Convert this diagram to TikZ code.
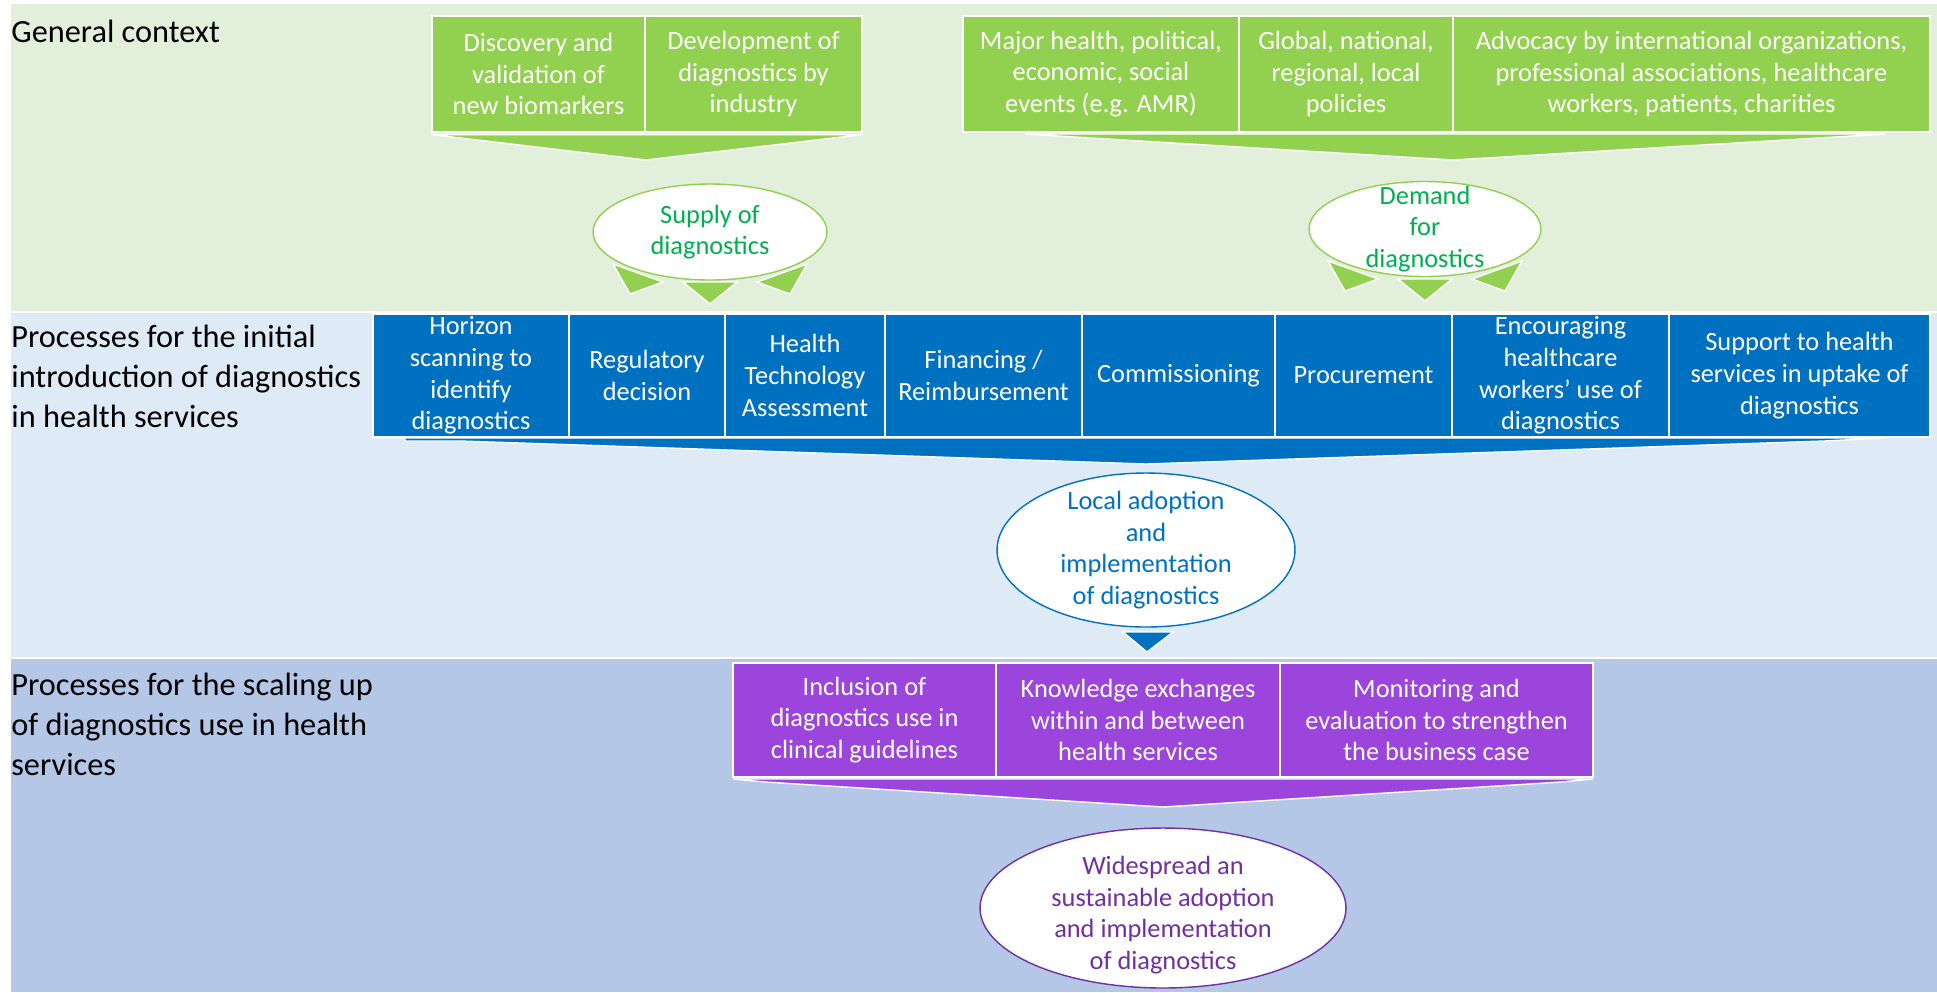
\documentclass[tikz,border=0pt]{standalone}
\usepackage{fontspec}
\setmainfont{Carlito}
\usetikzlibrary{shapes.geometric,calc}

\definecolor{bandgreen}{HTML}{E2EFDA}
\definecolor{bandblue}{HTML}{DEEBF7}
\definecolor{banddark}{HTML}{B4C7E7}
\definecolor{leafgreen}{HTML}{92D050}
\definecolor{textgreen}{HTML}{00B050}
\definecolor{boxblue}{HTML}{0070C0}
\definecolor{boxpurple}{HTML}{9B45DC}
\definecolor{textpurple}{HTML}{7030A0}

\begin{document}
\begin{tikzpicture}[x=0.02cm,y=-0.02cm,
    rowtitle/.style={anchor=base west,align=left,inner sep=0,font=\fontsize{18.4}{22.5}\selectfont},
    box/.style={draw=white,line width=0.7pt,text=white,align=center,inner sep=0,font=\fontsize{15}{18}\selectfont},
    greenbox/.style={box,fill=leafgreen,minimum height=2.32cm},
    bluebox/.style={box,fill=boxblue,minimum height=2.46cm},
    purplebox/.style={box,fill=boxpurple,minimum height=2.28cm},
    oval/.style={ellipse,fill=white,inner sep=0,line width=0.8pt},
    ovaltext/.style={align=center,inner sep=0,font=\fontsize{15}{18}\selectfont},
    chevron/.style={draw=white,line width=0.8pt}]
    \useasboundingbox (0,0) rectangle (1937,992);
    % three bands
    \fill[bandgreen] (11,4) rectangle (1937,312);
    \fill[bandblue] (11,312) rectangle (1937,658);
    \fill[banddark] (11,658) rectangle (1937,992);
    \draw[white,line width=0.8pt] (11,312) -- (1937,312) (11,658) -- (1937,658);
    % base of a multi-line title is its last line
    \node[rowtitle] (general) at (11,42) {General context};
    \node[rowtitle] (initial) at (11,427) {Processes for the initial\\introduction of diagnostics\\in health services};
    \node[rowtitle] (scaling) at (11,775) {Processes for the scaling up\\of diagnostics use in health\\services};

    % general context
    \node[greenbox,minimum width=4.26cm] (discovery) at (538.5,74) {Discovery and\\validation of\\new biomarkers};
    \node[greenbox,minimum width=4.34cm] (development) at (753.5,74) {Development of\\diagnostics by\\industry};
    \node[greenbox,minimum width=5.52cm] (events) at (1101,74) {Major health, political,\\economic, social\\events (e.g. AMR)};
    \node[greenbox,minimum width=4.28cm] (policies) at (1346,74) {Global, national,\\regional, local\\policies};
    \node[greenbox,minimum width=9.54cm] (advocacy) at (1691.5,74) {Advocacy by international organizations,\\professional associations, healthcare\\workers, patients, charities};
    \fill[leafgreen,chevron] ($(discovery.south west)+(0,2)$) -- ($(development.south east)+(0,2)$) -- (646,160) -- cycle;
    \fill[leafgreen,chevron] (1025,134) -- (1885,134) -- (1453,160) -- cycle;

    \node[oval,draw=leafgreen,minimum width=4.68cm,minimum height=1.92cm] (supply) at (710,232) {};
    \node[ovaltext,text=textgreen] (supplytext) at (supply) {Supply of\\diagnostics};
    \node[oval,draw=leafgreen,minimum width=4.64cm,minimum height=1.9cm] (demand) at (1425,229) {};
    \node[ovaltext,text=textgreen] (demandtext) at (demand) {Demand\\for\\diagnostics};
    \foreach \e in {supply,demand} {
        \fill[leafgreen,chevron] ($(\e)+(-97,32)$) -- ($(\e)+(-47,50)$) -- ($(\e)+(-80,62)$) -- cycle;
        \fill[leafgreen,chevron] ($(\e)+(-27,50)$) -- ($(\e)+(27,50)$) -- ($(\e)+(0,72)$) -- cycle;
        \fill[leafgreen,chevron] ($(\e)+(47,50)$) -- ($(\e)+(97,32)$) -- ($(\e)+(80,62)$) -- cycle;
    }

    % initial introduction
    \node[bluebox,minimum width=3.92cm] (horizon) at (471,375.5) {Horizon\\scanning to\\identify\\diagnostics};
    \node[bluebox,minimum width=3.12cm] (regulatory) at (647,375.5) {Regulatory\\decision};
    \node[bluebox,minimum width=3.2cm] (hta) at (805,375.5) {Health\\Technology\\Assessment};
    \node[bluebox,minimum width=3.94cm] (financing) at (983.5,375.5) {Financing /\\Reimbursement};
    \node[bluebox,minimum width=3.86cm] (commissioning) at (1178.5,375.5) {Commissioning};
    \node[bluebox,minimum width=3.54cm] (procurement) at (1363.5,375.5) {Procurement};
    \node[bluebox,minimum width=4.34cm] (encouraging) at (1560.5,375.5) {Encouraging\\healthcare\\workers’ use of\\diagnostics};
    \node[bluebox,minimum width=5.22cm] (support) at (1799.5,375.5) {Support to health\\services in uptake of\\diagnostics};
    \fill[boxblue,chevron] (372,438) -- (1884,438) -- (1824,441) -- (1146,464) -- (460,441) -- (405,441) -- (405,438) -- cycle;

    \node[oval,draw=boxblue,minimum width=5.96cm,minimum height=3.08cm] (local) at (1146,550) {};
    \node[ovaltext,text=boxblue] (localtext) at (local) {Local adoption\\and\\implementation\\of diagnostics};
    \fill[boxblue,chevron] ($(local)+(-23,82)$) -- ($(local)+(27,82)$) -- ($(local)+(1,102)$) -- cycle;

    % scaling up
    \node[purplebox,minimum width=5.26cm] (guidelines) at (864.5,720) {Inclusion of\\diagnostics use in\\clinical guidelines};
    \node[purplebox,minimum width=5.68cm] (knowledge) at (1138,720) {Knowledge exchanges\\within and between\\health services};
    \node[purplebox,minimum width=6.26cm] (monitoring) at (1436.5,720) {Monitoring and\\evaluation to strengthen\\the business case};
    \fill[boxpurple,chevron] (733,779) -- (1593,779) -- (1561,782) -- (1163,807) -- (765,782) -- cycle;

    \node[oval,draw=textpurple,minimum width=7.32cm,minimum height=3.2cm] (widespread) at (1163,908) {};
    \node[ovaltext,text=textpurple] (widespreadtext) at (1163,915) {Widespread an\\sustainable adoption\\and implementation\\of diagnostics};
\end{tikzpicture}
\end{document}
